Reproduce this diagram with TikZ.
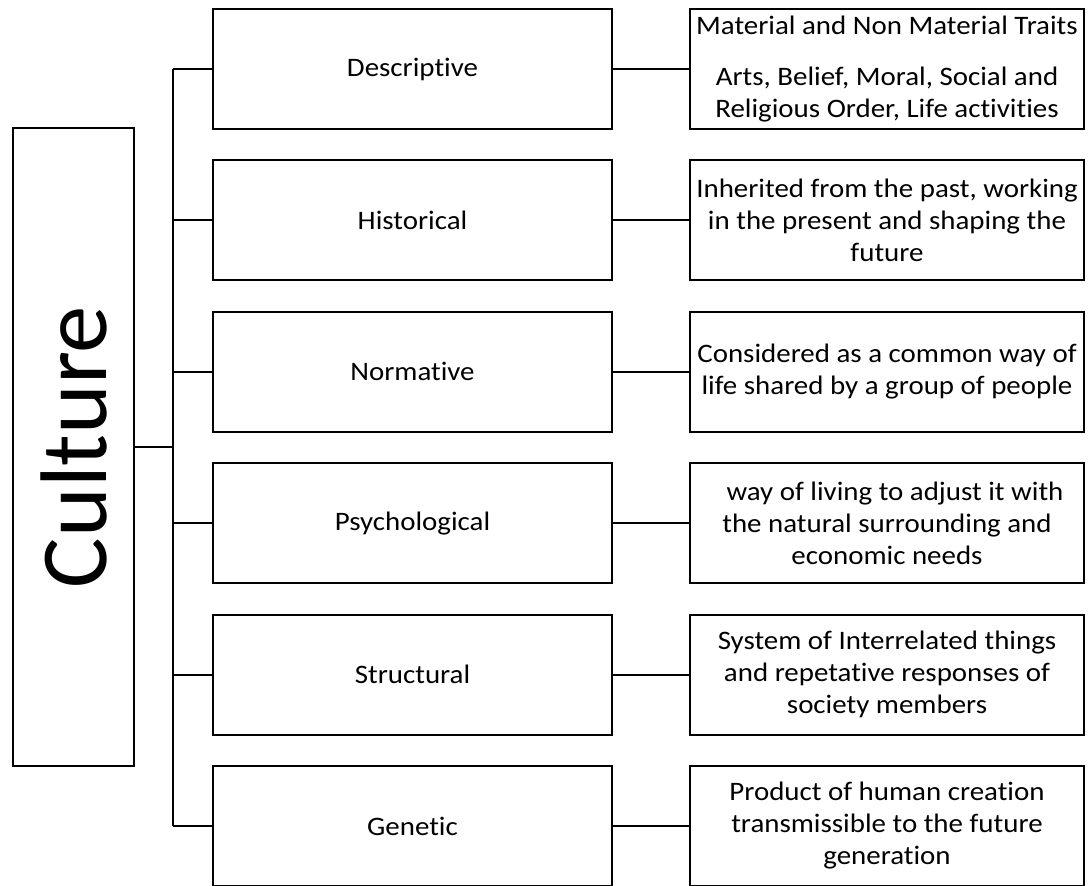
\documentclass[tikz,border=0pt]{standalone}
\usepackage{fontspec}
\setmainfont{Carlito}[FakeStretch=1.085, Ligatures=NoCommon]
\newfontfamily\bigfont{Carlito}[Ligatures=NoCommon]

\begin{document}
\begin{tikzpicture}[x=0.75pt, y=-0.75pt, line width=1.5pt,
    font=\fontsize{20}{24}\selectfont,
    medio/.style={draw, minimum width=299.25pt, minimum height=90pt, inner sep=0pt},
    lado/.style={draw, minimum width=295.5pt, minimum height=90pt, inner sep=0pt, align=center}]

    \useasboundingbox (0,0) rectangle (1088,885);

    % #1 = nombre, #2 = altura de la fila, #3 = texto central, #4 = texto derecho
    \newcommand{\fila}[4]{%
        \node[medio] (#1) at (412.5,#2) {#3};
        \node[lado] (#1txt) at (887,#2) {#4};
        \draw (#1.east) -- (#1txt.west);
        \draw (#1.west) -- (#1.west -| spine);}

    \node[draw, minimum width=90.75pt, minimum height=478.5pt] (culture) at (73.5,447) {};
    \node[rotate=90, font=\bigfont\fontsize{71}{80}\selectfont] (culturename) at (culture.center) {Culture};
    \coordinate (spine) at (173,447);

    \fila{desc}{69}{Descriptive}{Material and Non Material Traits\\[14pt]Arts, Belief, Moral, Social and\\Religious Order, Life activities}
    \fila{hist}{220.4}{Historical}{Inherited from the past, working\\in the present and shaping the\\future}
    \fila{norm}{371.8}{Normative}{Considered as a common way of\\life shared by a group of people}
    \fila{psyc}{523.2}{Psychological}{\hspace*{12pt}way of living to adjust it with\\the natural surrounding and\\economic needs}
    \fila{stru}{674.6}{Structural}{System of Interrelated things\\and repetative responses of\\society members}
    \fila{gene}{826}{Genetic}{Product of human creation\\transmissible to the future\\generation}

    \draw (culture) -- (spine);
    \draw (desc.west -| spine) -- (gene.west -| spine);

\end{tikzpicture}
\end{document}
